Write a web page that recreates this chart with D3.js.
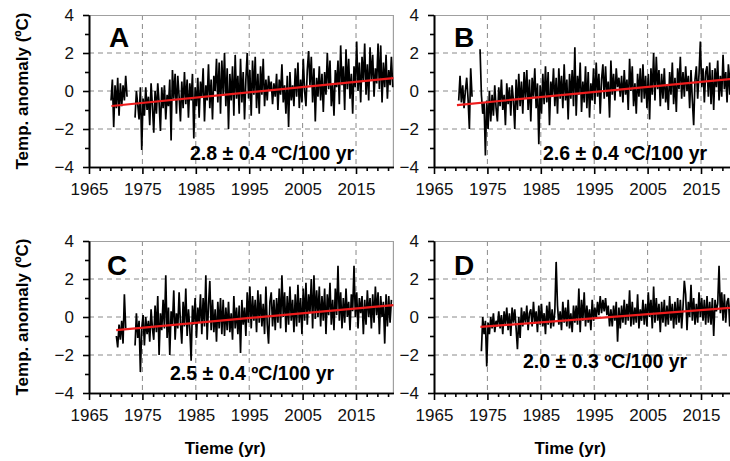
<!DOCTYPE html>
<html>
<head>
<meta charset="utf-8">
<script src="https://cdn.jsdelivr.net/npm/d3@7"></script>
<style>
body{margin:0;background:#fff;}
text{font-family:Arial,"Liberation Sans",sans-serif;}
</style>
</head>
<body>
<div id="chart_area"></div>
<script>
// panel labels and the trend text
var panelNames = ["A", "B", "C", "D"];
var rateLabels = ["2.8 \u00b1 0.4 \u00baC/100 yr", "2.6 \u00b1 0.4 \u00baC/100 yr", "2.5 \u00b1 0.4 \u00baC/100 yr", "2.0 \u00b1 0.3 \u00baC/100 yr"];

// first year of each series, values are quarterly
var startYears = [1969, 1969, 1970, 1973];

var seriesA = [
 -0.5,0.6,-1.9,0.3, -0.9,0.7,-1.3,0.4, -0.8,0.3,-0.5,0.8, -0.3,null,null,null,
 null,null,-1.4,0.0, -0.7,-1.5,0.2,-3.1, -0.4,-1.3,0.2,-1.0, -0.3,-1.8,0.4,-0.8,
 -2.2,0.0,-1.2,0.4, -0.6,-2.1,0.2,-0.9, 0.3,-1.5,-0.2,-0.8, 0.6,-2.6,1.1,-0.4,
 0.9,-1.2,0.8,-0.3, -1.6,0.5,-0.9,1.0, -0.7,0.6,-1.4,0.4, -0.5,0.9,-2.5,0.2,
 -0.8,0.7,-1.4,0.5, -0.3,1.2,-1.6,0.3, -0.5,1.4,-0.9,0.6, -1.5,0.8,0.0,1.7,
 -0.6,1.5,-1.2,1.6, -0.2,2.0,-0.8,1.2, -2.0,0.9,-0.5,1.3, -1.3,1.9,-0.4,0.8,
 -1.2,1.7,-0.6,1.0, -1.5,0.6,2.0,-0.4, 1.1,-1.3,1.6,-0.2, 1.8,-0.9,0.9,-1.2,
 1.3,-0.2,1.7,-0.8, 0.6,-0.5,0.8,0.0, 0.5,-0.7,0.4,-0.3, 0.9,-1.0,0.6,-0.2,
 1.4,-0.6,0.3,-1.2, 0.8,-1.9,1.0,-0.5, 0.3,-0.8,1.2,-0.3, 1.5,-0.9,0.6,-0.6,
 1.7,0.0,-0.8,1.1, 2.1,0.3,1.8,-0.6, 1.2,-1.6,0.7,-0.3, 1.3,-0.5,0.9,-1.1,
 1.0,-0.2,2.0,0.1, 1.6,-0.8,0.4,-1.3, 1.1,0.2,1.6,-0.7, 2.4,0.3,1.3,-1.0,
 2.2,0.1,1.7,-0.4, 0.9,-1.2,1.3,0.2, 2.6,0.0,1.5,-0.6, 1.8,0.5,2.5,-0.2,
 1.4,-0.5,2.3,0.6, 1.9,-0.3,1.2,0.4, 2.5,0.1,2.4,-0.6, 1.5,0.2,1.9,-0.4,
 1.1,0.3,1.8,0.2
];

var seriesB = [
 null,null,-0.5,0.8, -0.6,0.3,-0.9,0.0, 0.7,-0.4,-2.0,1.2, -0.3,null,null,null,
 null,null,2.2,-0.2, -1.2,-0.6,-3.4,-0.5, -2.0,0.0,-1.6,-0.2, -1.3,0.3,-0.9,-1.6,
 0.2,-0.8,0.6,-1.0, -0.2,-1.8,0.4,-0.7, 0.2,-1.3,0.3,-0.5, -2.0,0.6,-1.0,0.9,
 -0.8,0.5,-1.2,1.0, -0.4,1.1,-1.0,0.6, -1.6,0.7,-0.3,1.2, -0.9,0.4,-2.8,0.3,
 -1.2,0.9,-0.7,1.3, -0.6,1.0,-1.8,0.5, -0.3,1.2,-0.8,0.7, -1.2,1.2,-0.4,0.8,
 -0.9,1.4,-0.5,0.6, -1.5,0.9,-0.4,1.1, -0.8,2.3,-1.3,0.8, -0.2,1.5,-1.1,0.5,
 -0.6,1.3,-0.9,1.0, -1.4,0.4,-0.5,1.2, -0.7,1.5,-0.3,0.9, -1.2,0.6,1.4,-0.4,
 1.3,-0.3,0.5,-1.4, 1.6,-0.2,0.9,-0.5, 1.2,0.2,0.7,-0.3, 0.8,-0.6,1.1,-0.2,
 0.6,-1.0,1.7,0.0, 1.3,-0.8,0.4,-1.2, 0.9,-0.3,1.2,-0.6, 1.4,-0.4,0.8,-0.9,
 0.9,-1.5,1.2,-0.2, 2.0,-0.5,1.8,0.1, 1.1,-0.8,0.9,-0.4, 1.2,-0.6,0.3,-1.0,
 1.0,-0.2,1.5,-0.7, 0.7,-1.1,1.2,0.1, 1.8,-0.4,1.0,-0.3, 1.3,0.0,0.8,-0.9,
 1.1,-0.5,-1.8,0.6, 1.3,-0.4,0.9,2.6, 0.2,1.2,-0.6,1.0, 1.3,-0.3,1.5,-0.7,
 1.1,-1.0,1.2,0.2, 1.6,-0.5,0.8,-0.3, 1.9,0.1,1.0,-0.6, 1.4,-0.2,1.7,-0.9,
 1.3,0.0,1.8,-0.4
];

var seriesC = [
 -1.0,-1.6,-0.4,-1.2, -0.2,-1.4,1.2,-0.6, null,null,null,null, null,null,-1.5,0.2,
 -1.1,-0.2,-2.9,-0.6, 0.1,-1.5,0.0,-0.9, -0.2,-1.3,0.4,-0.6, -1.2,0.6,-0.8,1.1,
 -2.0,0.2,-0.7,0.9, -0.6,2.2,-1.1,0.5, -2.0,0.3,-0.4,1.4, -1.2,0.2,-0.6,1.3,
 -0.3,-1.4,0.8,-0.5, 1.5,-1.0,0.4,-0.6, -2.3,0.6,-0.4,1.0, -1.1,0.5,-0.3,1.2,
 -0.9,1.0,-0.5,2.2, -1.2,0.6,1.9,-0.7, 0.9,-0.8,0.4,-1.3, 0.8,-0.6,1.0,-0.9,
 0.9,-1.0,0.5,-0.7, 0.8,-0.8,0.2,-1.2, 1.1,-0.6,0.5,-0.9, 0.6,-1.9,0.9,-0.4,
 0.5,-1.0,1.3,-0.3, 1.6,-0.6,1.1,-0.2, 0.9,-0.8,1.4,-0.3, 1.2,-0.5,0.7,-0.9,
 1.6,-0.4,-1.4,0.8, 1.3,-0.5,0.9,-0.7, 1.0,-0.3,1.5,-0.6, 2.2,0.0,1.3,-0.8,
 1.1,-0.4,1.6,-0.2, 0.9,-0.8,1.2,-0.5, 1.7,-0.3,1.0,-0.9, 1.5,-0.2,1.8,-0.4,
 1.2,0.2,2.0,-0.6, 2.2,-0.1,1.4,0.0, 1.6,-0.5,1.1,-0.2, 1.5,-0.9,1.2,0.1,
 1.8,-0.4,0.9,-0.7, 1.5,0.1,2.7,-0.2, 1.3,-0.6,1.0,-0.3, 1.5,0.0,0.8,-0.7,
 1.2,0.3,2.7,0.0, 1.3,-0.6,1.0,0.2, 1.1,-0.9,0.9,-0.4, 1.4,0.0,1.0,-0.6,
 1.2,-0.3,1.6,0.1, 1.3,-0.9,1.1,0.0, 0.8,-1.4,1.2,-0.5, 1.1,-0.3,0.9
];

var seriesD = [
 null,null,null,-1.8, 0.0,-0.9,-0.2,-2.6, -0.3,-0.9,0.0,-0.6, 0.2,-0.8,-0.2,-0.5,
 0.3,-0.6,0.1,-0.9, 0.3,-0.4,0.5,-0.7, 0.2,-1.0,0.5,-0.3, 0.4,-0.6,-1.7,0.0,
 -1.1,0.5,-0.5,0.3, -0.3,0.6,-0.7,0.2, 0.4,-0.5,0.8,-0.3, 0.3,-0.8,0.6,-0.4,
 0.7,-0.5,0.2,-0.9, 0.6,-0.4,0.8,-0.6, 0.4,-0.5,0.3,2.9, 0.6,-0.4,0.3,-0.7,
 0.8,-0.3,0.5,-0.5, 0.9,-0.6,0.2,-0.8, 0.6,-0.3,0.6,-0.4, 1.5,-0.8,0.9,-0.2,
 1.3,-0.5,0.6,-0.3, 0.4,-0.7,0.9,-0.2, 0.5,-0.1,0.8,0.1, 1.1,0.2,0.9,0.3,
 1.0,0.1,0.6,-0.5, 0.4,-0.5,0.6,-0.2, 0.8,-1.3,0.5,-0.6, 0.6,-0.3,0.9,-0.4,
 0.7,-0.2,1.4,-0.5, 0.8,-0.4,0.5,-0.3, 1.2,-0.6,0.4,-0.2, 0.9,-0.4,0.7,-0.5,
 1.3,0.0,0.9,-0.6, 1.6,-0.3,1.0,-0.2, 0.7,-0.8,0.8,-0.3, 0.9,-0.5,0.6,-0.4,
 1.1,-0.2,0.7,-0.6, 0.8,-0.4,1.0,-0.3, 0.9,-0.6,0.5,1.9, 1.2,-0.7,0.8,0.0,
 1.7,-0.2,1.0,-0.4, 0.7,-0.3,1.3,0.0, 1.0,-0.2,0.9,-0.4, 1.1,-0.3,0.8,-0.4,
 1.0,-1.0,0.9,0.3, 0.7,2.7,0.2,1.3, -0.2,1.2,-0.3,0.8, 1.0,-0.5,1.2,0.2,
 0.9,-0.4,1.0,0.3
];

// red linear trend, start and end
var trendYears = [[1969.2, 2022], [1969.3, 2022], [1970.1, 2022], [1973.7, 2022]];
var trendValues = [[-0.79, 0.68], [-0.74, 0.67], [-0.69, 0.63], [-0.52, 0.51]];

var xTicks = [1965, 1975, 1985, 1995, 2005, 2015];
var xMinor = [1967, 1969, 1971, 1973, 1977, 1979, 1981, 1983, 1987, 1989, 1991, 1993, 1997, 1999, 2001, 2003, 2007, 2009, 2011, 2013, 2017, 2019, 2021];
var yTicks = [-4, -2, 0, 2, 4];
var yMinor = [-3, -1, 1, 3];
var xTitles = ["Tieme (yr)", "Time (yr)"];
var yTitle = "Temp. anomaly (\u00baC)";

var allSeries = [seriesA, seriesB, seriesC, seriesD];

//the frame
var sFrame = d3.select("#chart_area").append("svg")
	.attr("width", 730)
	.attr("height", 461);

var sPlotW = 304.4;
var sPlotH = 152;
var sLefts = [89, 434, 89, 434];
var sTops = [15, 15, 241, 241];

var x = d3.scaleLinear().domain([1965, 2022]).range([0, sPlotW]);
var y = d3.scaleLinear().domain([-4, 4]).range([sPlotH, 0]);

// text offsets inside each panel
var sLetterPos = [[20, 32], [20, 32], [18, 34], [20, 34]];
var sRatePos = [[101, 145], [109, 145], [81, 139], [89, 127]];

allSeries.forEach(function(pValues, i){
	var sCanvas = sFrame.append("g")
		.attr("transform", "translate(" + sLefts[i] + "," + sTops[i] + ")");

	var sData = pValues.map(function(v, j){
		return {t: startYears[i] + j * 0.25 + 0.125, v: v};
	});

	//grid lines
	sCanvas.append("g").selectAll("line")
		.data(xTicks.slice(1))
		.join("line")
		.attr("x1", function(d){ return x(d); })
		.attr("x2", function(d){ return x(d); })
		.attr("y1", 0).attr("y2", sPlotH)
		.attr("stroke", "#8a8a8a").attr("stroke-width", 1)
		.attr("stroke-dasharray", "5,4");
	sCanvas.append("g").selectAll("line")
		.data([-2, 0, 2])
		.join("line")
		.attr("x1", 0).attr("x2", sPlotW)
		.attr("y1", function(d){ return y(d); })
		.attr("y2", function(d){ return y(d); })
		.attr("stroke", "#8a8a8a").attr("stroke-width", 1)
		.attr("stroke-dasharray", "5,4");

	//top and right border
	sCanvas.append("path")
		.attr("d", "M0,0.5H" + sPlotW + "V" + sPlotH)
		.attr("fill", "none").attr("stroke", "#a0a0a0").attr("stroke-width", 1.2);

	//the series
	var sLine = d3.line()
		.defined(function(d){ return d.v !== null; })
		.x(function(d){ return x(d.t); })
		.y(function(d){ return y(d.v); });
	sCanvas.append("path")
		.datum(sData)
		.attr("d", sLine)
		.attr("fill", "none")
		.attr("stroke", "#000")
		.attr("stroke-width", 1.7)
		.attr("stroke-linejoin", "miter");

	//trend line
	sCanvas.append("line")
		.attr("x1", x(trendYears[i][0])).attr("y1", y(trendValues[i][0]))
		.attr("x2", x(trendYears[i][1])).attr("y2", y(trendValues[i][1]))
		.attr("stroke", "#ee1c1c").attr("stroke-width", 2.2);

	//axes
	sCanvas.append("g")
		.attr("transform", "translate(0," + sPlotH + ")")
		.call(d3.axisBottom(x).tickValues(xTicks).tickFormat(d3.format("d")).tickSize(7).tickPadding(9).tickSizeOuter(0));
	sCanvas.append("g")
		.attr("transform", "translate(0," + sPlotH + ")")
		.call(d3.axisBottom(x).tickValues(xMinor).tickFormat("").tickSize(4).tickSizeOuter(0));
	sCanvas.append("g")
		.call(d3.axisLeft(y).tickValues(yTicks).tickSize(6).tickPadding(9).tickSizeOuter(0));
	sCanvas.append("g")
		.call(d3.axisLeft(y).tickValues(yMinor).tickFormat("").tickSize(4).tickSizeOuter(0));

	sCanvas.selectAll(".domain").attr("stroke", "#000").attr("stroke-width", 1.6);
	sCanvas.selectAll(".tick line").attr("stroke", "#000").attr("stroke-width", 1.6);
	sCanvas.selectAll(".tick text").attr("font-size", 17).attr("fill", "#111")
		.attr("font-family", "Arial, 'Liberation Sans', sans-serif");

	//panel letter
	sCanvas.append("text")
		.attr("x", sLetterPos[i][0]).attr("y", sLetterPos[i][1])
		.attr("font-size", 28).attr("font-weight", "bold")
		.text(panelNames[i]);

	//trend label
	sCanvas.append("text")
		.attr("x", sRatePos[i][0]).attr("y", sRatePos[i][1])
		.attr("font-size", 19.5).attr("font-weight", "bold")
		.text(rateLabels[i]);

	//y title on the left panels
	if (i % 2 === 0) {
		sCanvas.append("text")
			.attr("transform", "translate(-61," + (sPlotH / 2) + ") rotate(-90)")
			.attr("text-anchor", "middle")
			.attr("font-size", 17).attr("font-weight", "bold")
			.text(yTitle);
	}
	//x titles on the bottom row
	if (i >= 2) {
		sCanvas.append("text")
			.attr("x", x(1990.5)).attr("y", sPlotH + 61)
			.attr("text-anchor", "middle")
			.attr("font-size", 17).attr("font-weight", "bold")
			.text(xTitles[i - 2]);
	}
});
</script>
</body>
</html>
